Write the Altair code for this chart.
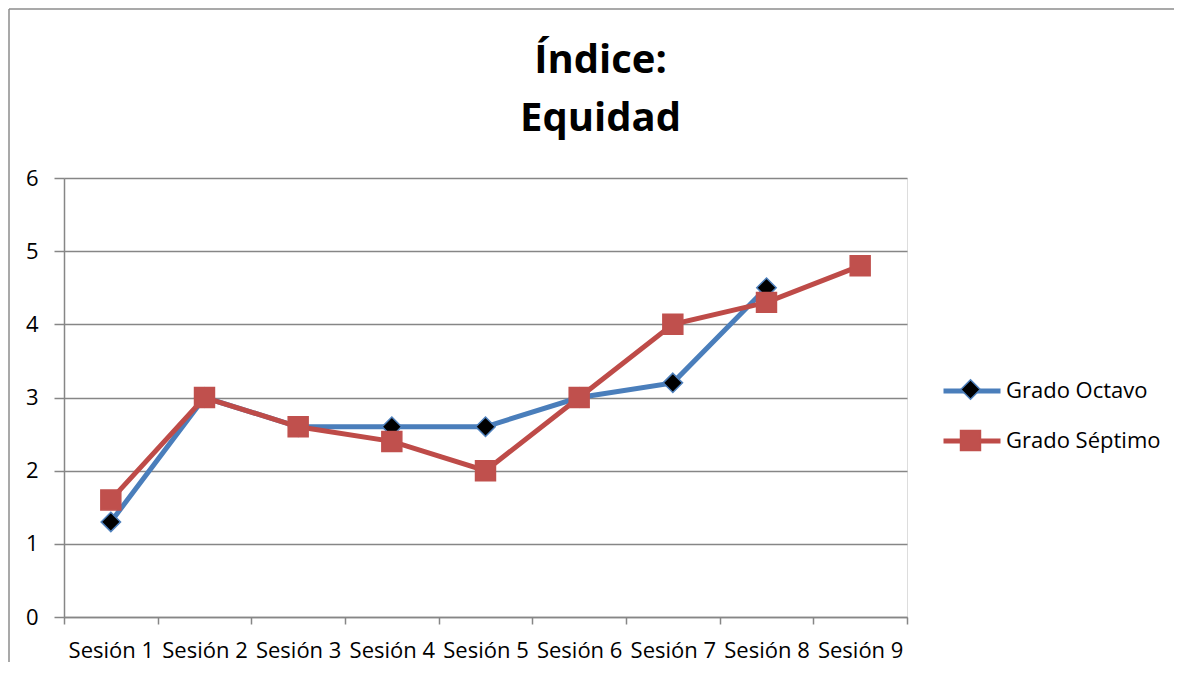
import altair as alt
import pandas as pd

sesiones = ["Sesión 1", "Sesión 2", "Sesión 3", "Sesión 4", "Sesión 5",
            "Sesión 6", "Sesión 7", "Sesión 8", "Sesión 9"]
series = ["Grado Octavo", "Grado Séptimo"]
octavo = [1.3, 3.0, 2.6, 2.6, 2.6, 3.0, 3.2, 4.5, None]
septimo = [1.6, 3.0, 2.6, 2.4, 2.0, 3.0, 4.0, 4.3, 4.8]
y_ticks = [0, 1, 2, 3, 4, 5, 6]
titulo = ["Índice:", "Equidad"]

rows = []
for name, vals in zip(series, [octavo, septimo]):
    for s, v in zip(sesiones, vals):
        rows.append({"sesion": s, "valor": v, "serie": name, "serie_m": name})
df = pd.DataFrame(rows)

FONT = "Open Sans"
GREY = "#868686"
LINE_COLORS = ["#4A7EBB", "#BE4B48"]
MARK_FILL = ["#000000", "#C0504D"]
MARK_STROKE = ["#4F81BD", "#C0504D"]
SYM = 3249
DIAMOND = "M0,-0.34L0.34,0L0,0.34L-0.34,0Z"
SQUARE = "M-0.35,-0.35H0.35V0.35H-0.35Z"
LX, LY, RP = 877, 182, 8

x_enc = alt.X(
    "sesion:N", sort=sesiones,
    scale=alt.Scale(type="band", domain=sesiones, paddingInner=0, paddingOuter=0),
    axis=alt.Axis(title=None, tickBand="extent", labelAngle=0, labelOverlap=False,
                  tickSize=7, labelPadding=16, labelFont=FONT, labelFontSize=22,
                  labelColor="black", domainColor=GREY, tickColor=GREY,
                  domainWidth=1.5, tickWidth=1.5, grid=False),
)
y_enc = alt.Y(
    "valor:Q",
    scale=alt.Scale(domain=[0, 6], nice=False),
    axis=alt.Axis(title=None, values=y_ticks, grid=True, gridColor=GREY, gridWidth=1.5,
                  tickSize=10, labelPadding=16, labelFont=FONT, labelFontSize=22,
                  labelColor="black", domainColor=GREY, tickColor=GREY,
                  domainWidth=1.5, tickWidth=1.5),
)

legend_a = alt.Legend(title=None, orient="none", legendX=LX, legendY=LY,
                      symbolType="stroke", symbolSize=SYM, symbolStrokeWidth=5,
                      labelFont=FONT, labelFontSize=22, labelColor="black",
                      labelOffset=3, rowPadding=RP, padding=0)
legend_b = alt.Legend(title=None, orient="none", legendX=LX, legendY=LY,
                      symbolSize=SYM, symbolStrokeWidth=1.5, symbolOpacity=1,
                      labelFont=FONT, labelFontSize=22, labelExpr="''",
                      labelOffset=3, rowPadding=RP, padding=0)

base = alt.Chart(df)
layers = []
for name in series:
    sub = base.transform_filter(alt.datum.serie == name)
    layers.append(sub.mark_line(strokeWidth=5).encode(
        x=x_enc, y=y_enc,
        color=alt.Color("serie:N", scale=alt.Scale(domain=series, range=LINE_COLORS),
                        legend=legend_a),
    ))
    layers.append(sub.mark_point(size=SYM, strokeWidth=1.5, opacity=1).encode(
        x=x_enc, y=y_enc,
        shape=alt.Shape("serie_m:N", scale=alt.Scale(range=[DIAMOND, SQUARE]), legend=legend_b),
        fill=alt.Fill("serie_m:N", scale=alt.Scale(range=MARK_FILL), legend=legend_b),
        stroke=alt.Stroke("serie_m:N", scale=alt.Scale(range=MARK_STROKE), legend=legend_b),
    ))

frame_data = alt.Data(values=[{"k": 1}])
frame_left = alt.Chart(frame_data).mark_rule(color="#8C8C8C", strokeWidth=1.5).encode(
    x=alt.value(-55), y=alt.value(-169), y2=alt.value(484))
frame_top = alt.Chart(frame_data).mark_rule(color="#8C8C8C", strokeWidth=1.5).encode(
    x=alt.value(-55), x2=alt.value(1110), y=alt.value(-169))

chart = alt.layer(frame_left, frame_top, *layers).properties(
    width=843, height=439,
    padding=0,
    title=alt.TitleParams(text=titulo, font=FONT, fontSize=40, fontWeight="bold",
                          color="black", lineHeight=58, anchor="middle",
                          dx=115, offset=-131),
).configure_view(stroke=None).configure(background="white")

chart.save("out.html", embed_options={"renderer": "svg", "actions": False})
